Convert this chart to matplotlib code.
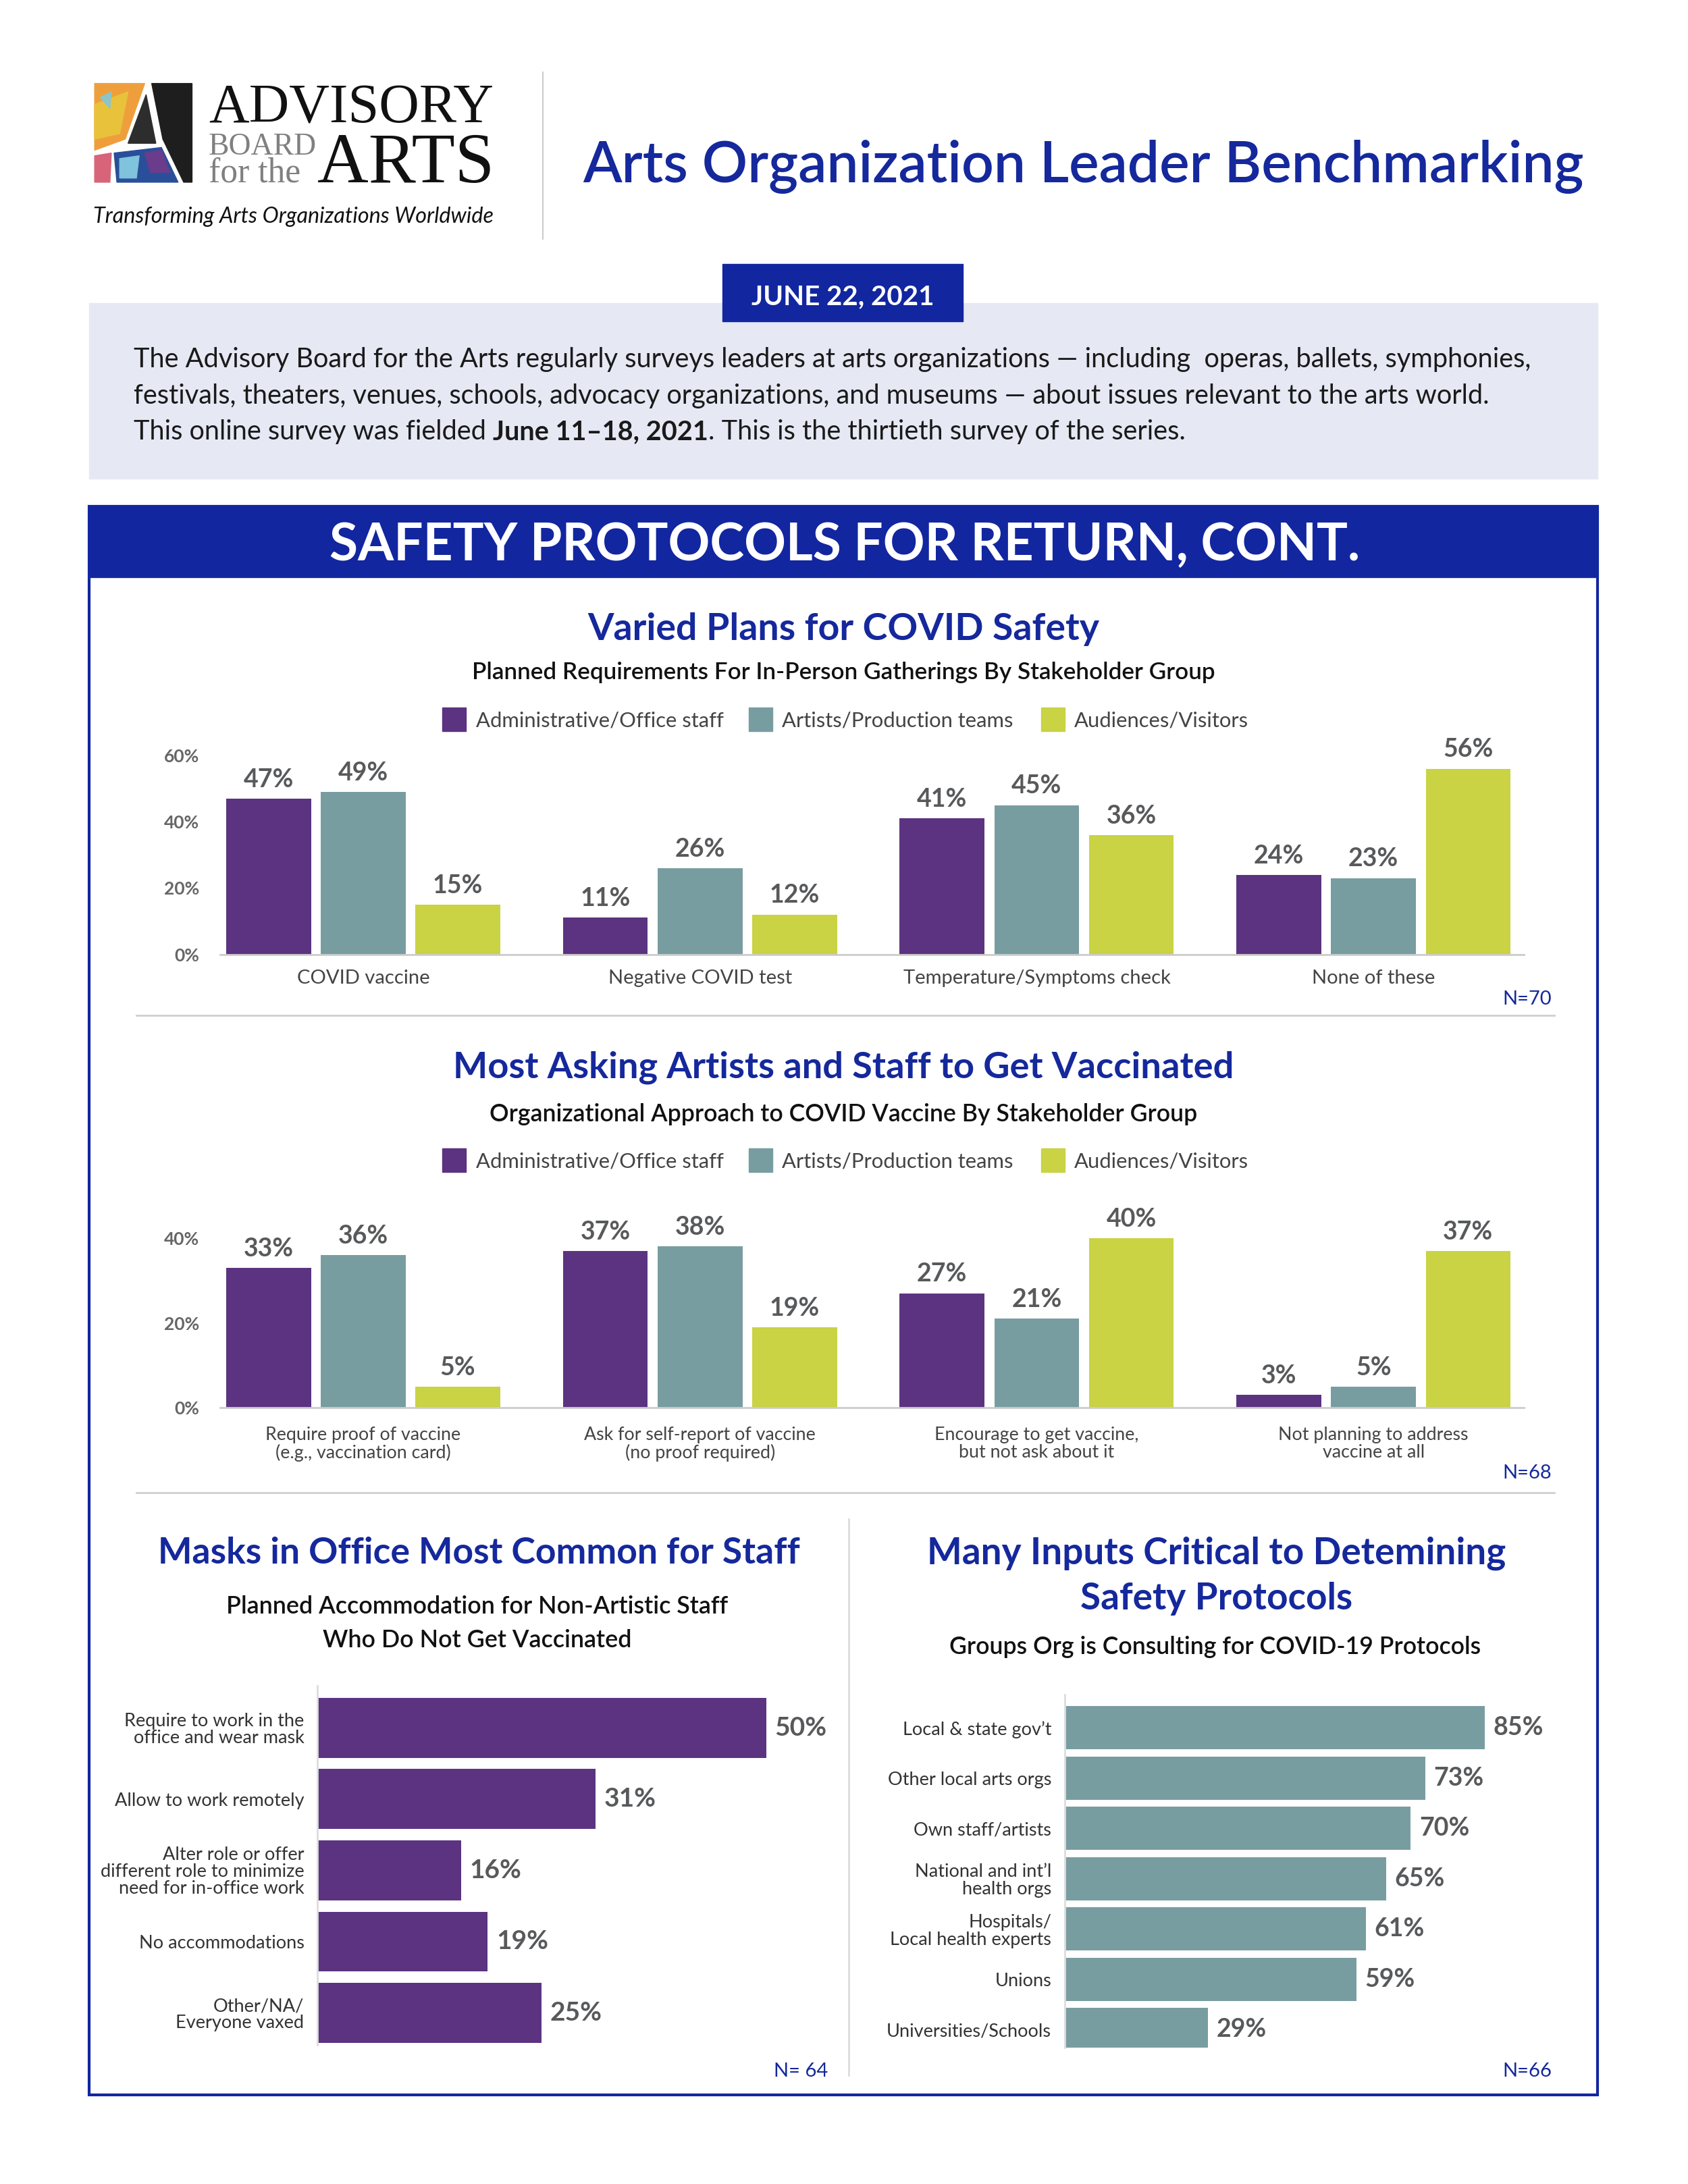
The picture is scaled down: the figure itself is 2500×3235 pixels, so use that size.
import matplotlib
matplotlib.use('Agg')
import matplotlib.pyplot as plt
from matplotlib.patches import Rectangle, Polygon
import numpy as np

# ---------------- data ----------------
series = ['Administrative/Office staff', 'Artists/Production teams', 'Audiences/Visitors']
series_colors = ['#5c3380', '#789da0', '#c9d344']

c1_cats = ['COVID vaccine', 'Negative COVID test', 'Temperature/Symptoms check', 'None of these']
c1_admin = [47, 11, 41, 24]
c1_artists = [49, 26, 45, 23]
c1_aud = [15, 12, 36, 56]
c1_ticks = [0, 20, 40, 60]

c2_cats = ['Require proof of vaccine\n(e.g., vaccination card)',
           'Ask for self-report of vaccine\n(no proof required)',
           'Encourage to get vaccine,\nbut not ask about it',
           'Not planning to address\nvaccine at all']
c2_admin = [33, 37, 27, 3]
c2_artists = [36, 38, 21, 5]
c2_aud = [5, 19, 40, 37]
c2_ticks = [0, 20, 40]

c3_cats = ['Require to work in the\noffice and wear mask', 'Allow to work remotely',
           'Alter role or offer\ndifferent role to minimize\nneed for in-office work',
           'No accommodations', 'Other/NA/\nEveryone vaxed']
c3_vals = [50, 31, 16, 19, 25]

c4_cats = ['Local & state gov\u2019t', 'Other local arts orgs', 'Own staff/artists',
           'National and int\u2019l\nhealth orgs', 'Hospitals/\nLocal health experts',
           'Unions', 'Universities/Schools']
c4_vals = [85, 73, 70, 65, 61, 59, 29]

# ---------------- styling ----------------
BLUE = '#15289c'
BAND = '#1226a0'
LAV = '#e6e8f4'
VALC = '#58595b'
SEP = '#cfcfcf'
FONT = 'Lato'

W, H = 1213.0, 1570.0
SC = 2500.0 / W

fig = plt.figure(figsize=(25, 32.35), dpi=100)
bg = fig.add_axes([0, 0, 1, 1], zorder=0)
bg.set_xlim(0, W)
bg.set_ylim(H, 0)
bg.axis('off')
renderer = fig.canvas.get_renderer()


def fit(t, target_w):
    bb = t.get_window_extent(renderer)
    w = bb.width / SC
    t.set_fontsize(t.get_fontsize() * target_w / w)
    return t


def T(x, y, s, target_w=None, **kw):
    kw.setdefault('family', FONT)
    kw.setdefault('va', 'baseline')
    t = bg.text(x, y, s, **kw)
    if target_w:
        fit(t, target_w)
    return t


def axrect(l, t, r, b):
    return [l / W, 1 - b / H, (r - l) / W, (b - t) / H]


# ---------------- header / logo ----------------
bg.add_patch(Polygon([(68, 60), (104, 60), (90, 100), (68, 108)], closed=True, color='#ee9f3c'))
bg.add_patch(Polygon([(68, 75), (92, 66), (86, 96), (68, 100)], closed=True, color='#e9c23c'))
bg.add_patch(Polygon([(72, 70), (80, 66), (79, 78)], closed=True, color='#8ec4c8'))
bg.add_patch(Polygon([(92, 103), (105, 68), (112, 103)], closed=True, color='#2d2d2d'))
bg.add_patch(Polygon([(109, 60), (138, 60), (138, 131), (132, 131), (117, 100)], closed=True, color='#1e1e1e'))
bg.add_patch(Polygon([(68, 112), (80, 110), (79, 131), (68, 131)], closed=True, color='#d8647a'))
bg.add_patch(Polygon([(82, 110), (116, 106), (128, 131), (84, 131)], closed=True, color='#2a4f9a'))
bg.add_patch(Polygon([(86, 114), (100, 112), (98, 128), (86, 128)], closed=True, color='#7fc3dd'))
bg.add_patch(Polygon([(104, 110), (116, 108), (122, 124), (108, 124)], closed=True, color='#6b3b8c'))

T(150, 88, 'ADVISORY', 205, family='Liberation Serif', color='#111111')
T(150, 111, 'BOARD', 78, family='Liberation Serif', color='#808080')
T(150, 131, 'for the', 66, family='Liberation Serif', color='#808080')
T(228, 131, 'ARTS', 127, family='Liberation Serif', color='#111111')
T(67, 160, 'Transforming Arts Organizations Worldwide', 288, style='italic', color='#111111')
bg.plot([390, 390], [52, 172], color='#cccccc', lw=1.5)

T(1138, 131, 'Arts Organization Leader Benchmarking', 722, ha='right', color=BLUE, fontweight='semibold')

# lavender intro box and date tag
bg.add_patch(Rectangle((64, 218), 1084, 126, color=LAV, zorder=0))
bg.add_patch(Rectangle((519, 190), 173, 41, color=BAND, zorder=1))
T(605.5, 219, 'JUNE 22, 2021', 132, ha='center', color='white', fontweight='bold', zorder=2)

l1 = T(96, 264, 'The Advisory Board for the Arts regularly surveys leaders at arts organizations \u2014 including  operas, ballets, symphonies,',
       1008, color='#1a1a1a', fontweight='normal')
fs_body = l1.get_fontsize()
T(96, 290, 'festivals, theaters, venues, schools, advocacy organizations, and museums \u2014 about issues relevant to the arts world.',
  color='#1a1a1a', fontweight='normal', fontsize=fs_body)
parts = [('This online survey was fielded ', 'normal'), ('June 11\u201318, 2021', 'bold'),
         ('. This is the thirtieth survey of the series.', 'normal')]
xcur = 96
for s, wgt in parts:
    t = T(xcur, 316, s, color='#1a1a1a', fontweight=wgt, fontsize=fs_body)
    bb = t.get_window_extent(renderer)
    xcur += bb.width / SC

# blue band + frame
bg.add_patch(Rectangle((64, 364), 1084, 51, color=BAND, zorder=1))
bg.add_patch(Rectangle((64, 364), 1084, 1142, fill=False, edgecolor=BAND, lw=3, zorder=1))
T(607, 403, 'SAFETY PROTOCOLS FOR RETURN, CONT.', 740, ha='center', color='white', fontweight='bold', zorder=2)

# separators
bg.plot([98, 1117], [730, 730], color=SEP, lw=2)
bg.plot([98, 1117], [1073, 1073], color=SEP, lw=2)
bg.plot([610, 610], [1092, 1492], color='#dddddd', lw=2)

# ---------------- chart titles ----------------
T(606, 460, 'Varied Plans for COVID Safety', 368, ha='center', color=BLUE, fontweight='bold')
T(606, 488, 'Planned Requirements For In-Person Gatherings By Stakeholder Group', 535, ha='center', color='#111111', fontweight='semibold')
T(606, 775, 'Most Asking Artists and Staff to Get Vaccinated', 562, ha='center', color=BLUE, fontweight='bold')
T(606, 806, 'Organizational Approach to COVID Vaccine By Stakeholder Group', 509, ha='center', color='#111111', fontweight='semibold')
T(344, 1124, 'Masks in Office Most Common for Staff', 462, ha='center', color=BLUE, fontweight='bold')
s3 = T(343, 1160, 'Planned Accommodation for Non-Artistic Staff', 361, ha='center', color='#111111', fontweight='semibold')
T(343, 1184, 'Who Do Not Get Vaccinated', ha='center', color='#111111', fontweight='semibold', fontsize=s3.get_fontsize())
t4 = T(874, 1124, 'Many Inputs Critical to Detemining', 416, ha='center', color=BLUE, fontweight='bold')
T(874, 1157, 'Safety Protocols', ha='center', color=BLUE, fontweight='bold', fontsize=t4.get_fontsize())
T(873, 1189, 'Groups Org is Consulting for COVID-19 Protocols', 382, ha='center', color='#111111', fontweight='semibold')

# N labels
for x, y, s in [(1115, 722, 'N=70'), (1115, 1063, 'N=68'), (595, 1493, 'N= 64'), (1115, 1493, 'N=66')]:
    T(x, y, s, ha='right', color=BLUE, fontsize=21)


# legends
def legend_row(yc):
    xs = [318, 538, 748]
    for name, c, x in zip(series, series_colors, xs):
        bg.add_patch(Rectangle((x, yc - 8.5), 17, 17, color=c))
        T(x + 24, yc, name, va='center_baseline', color='#444444', fontsize=22.3)


legend_row(517)
legend_row(834)


# ---------------- grouped bar charts ----------------
def grouped(rect, cats, series_vals, ymax, ticks, xlab_fs, xpad):
    ax = fig.add_axes(rect, zorder=2)
    ax.patch.set_alpha(0)
    x = np.arange(len(cats))
    w = 61 / 242.
    off = 68 / 242.
    for i, (vals, c) in enumerate(zip(series_vals, series_colors)):
        bars = ax.bar(x + (i - 1) * off, vals, width=w, color=c, zorder=2)
        for b, v in zip(bars, vals):
            ax.annotate(f'{v}%', (b.get_x() + b.get_width() / 2, v), xytext=(0, 8),
                        textcoords='offset points', ha='center', va='bottom',
                        fontsize=27, fontweight='bold', color=VALC, family=FONT,
                        annotation_clip=False)
    ax.set_xlim((158 - 261) / 242., (1095 - 261) / 242.)
    ax.set_ylim(0, ymax)
    ax.set_yticks(ticks, [f'{t}%' for t in ticks])
    ax.set_xticks(x, cats)
    for s in ['left', 'right', 'top']:
        ax.spines[s].set_visible(False)
    ax.spines['bottom'].set_color('#cccccc')
    ax.spines['bottom'].set_linewidth(2)
    ax.tick_params(axis='y', length=0, pad=22, labelsize=19, labelcolor='#666666')
    ax.tick_params(axis='x', length=0, pad=xpad, labelsize=xlab_fs, labelcolor='#444444')
    for lab in ax.get_yticklabels():
        lab.set_family(FONT)
        lab.set_fontweight('bold')
    for lab in ax.get_xticklabels():
        lab.set_family(FONT)
        lab.set_linespacing(1.05)
    return ax


grouped(axrect(158, 543, 1095, 686), c1_cats, [c1_admin, c1_artists, c1_aud], 60, c1_ticks, 21, 16)
grouped(axrect(158, 890, 1095, 1012), c2_cats, [c2_admin, c2_artists, c2_aud], 40, c2_ticks, 19.3, 20)


# ---------------- horizontal bar charts ----------------
def hbars(rect, cats, vals, color, xmax, ytop, ybot, height, lab_fs, val_fs, lsp):
    ax = fig.add_axes(rect, zorder=2)
    ax.patch.set_alpha(0)
    y = np.arange(len(cats))
    bars = ax.barh(y, vals, height=height, color=color, zorder=2)
    for b, v in zip(bars, vals):
        ax.annotate(f'{v}%', (v, b.get_y() + b.get_height() / 2), xytext=(9, 0),
                    textcoords='offset points', ha='left', va='center',
                    fontsize=val_fs, fontweight='bold', color=VALC, family=FONT,
                    annotation_clip=False)
    ax.set_xlim(0, xmax)
    ax.set_ylim(ybot, ytop)
    ax.set_yticks(y, cats)
    ax.set_xticks([])
    for s in ['right', 'top', 'bottom']:
        ax.spines[s].set_visible(False)
    ax.spines['left'].set_color('#dddddd')
    ax.spines['left'].set_linewidth(2)
    ax.tick_params(axis='y', length=0, pad=14, labelsize=lab_fs, labelcolor='#333333')
    for lab in ax.get_yticklabels():
        lab.set_family(FONT)
        lab.set_linespacing(lsp)
    return ax


# chart 3: 6.45 px per % (display units)
hbars(axrect(228, 1212, 610, 1470), c3_cats, c3_vals, series_colors[0],
      (610 - 228) / 6.45, -(1242 - 1212) / 51.2, 4 + (1470 - 1447) / 51.2, 43 / 51.2, 19.5, 28, 1.0)
# chart 4: 3.553 px per %
hbars(axrect(765, 1218, 1130, 1472), c4_cats, c4_vals, series_colors[1],
      (1130 - 765) / 3.553, -(1242 - 1218) / 36.1, 6 + (1472 - 1459) / 36.1, 31 / 36.1, 19.5, 27, 1.05)

fig.savefig('out.png', dpi=100, facecolor='white')
